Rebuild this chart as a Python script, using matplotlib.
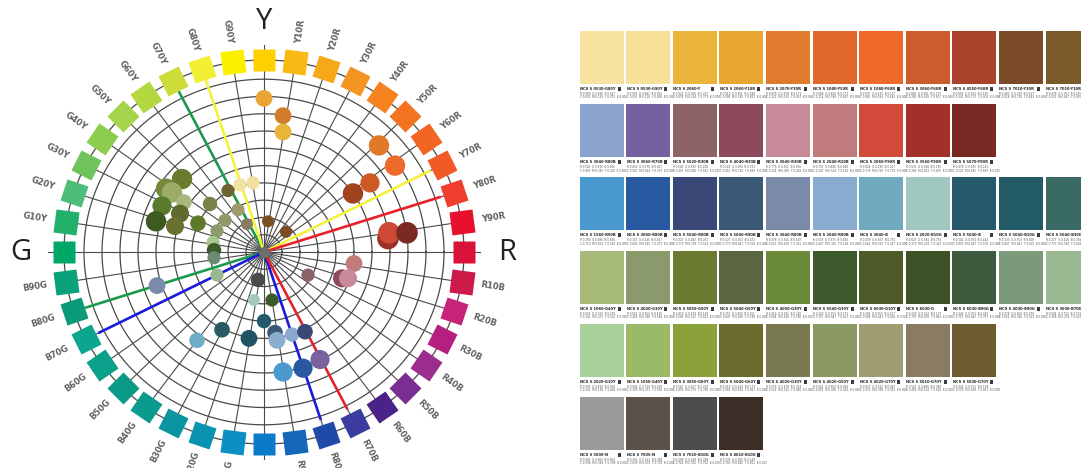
import numpy as np
import matplotlib
matplotlib.use('Agg')
import matplotlib.pyplot as plt
from matplotlib.markers import MarkerStyle
from matplotlib.transforms import Affine2D
from matplotlib.patches import Rectangle
import matplotlib.colors as mcolors

W, H = 1081, 468

# ---------------- NCS hue circle data ----------------
hue_labels = ['Y', 'Y10R', 'Y20R', 'Y30R', 'Y40R', 'Y50R', 'Y60R', 'Y70R', 'Y80R', 'Y90R',
              'R', 'R10B', 'R20B', 'R30B', 'R40B', 'R50B', 'R60B', 'R70B', 'R80B', 'R90B',
              'B', 'B10G', 'B20G', 'B30G', 'B40G', 'B50G', 'B60G', 'B70G', 'B80G', 'B90G',
              'G', 'G10Y', 'G20Y', 'G30Y', 'G40Y', 'G50Y', 'G60Y', 'G70Y', 'G80Y', 'G90Y']
hue_colors = ['#ffd000', '#f9b914', '#f7a81a', '#f59420', '#f5821f', '#f37321', '#f26522', '#f15a24', '#ef3e2d', '#e8112d',
              '#d9123a', '#cc1a4a', '#c8237a', '#b41f80', '#9b2d8e', '#7a2e92', '#4a2288', '#3a3ca0', '#1f4aa8', '#1567b8',
              '#0a7bc8', '#0e8fc4', '#0a93b0', '#0a95a0', '#0a9a8e', '#0a9a85', '#0aa08a', '#0aa690', '#0a9a7a', '#0aa27a',
              '#00a868', '#20b06a', '#4cbe7a', '#70c25a', '#8ccc4e', '#a6d44a', '#b4d840', '#cddc38', '#f2ee32', '#fcf000']
main_labels = {'Y': 0, 'R': 10, 'B': 20, 'G': 30}

# emphasis lines: hue direction (deg), length, colour
line_angles = [117, 108, 27, 18, 198, 207, -72, -63]
line_lengths = [0.95, 0.97, 0.935, 0.93, 0.94, 0.93, 0.92, 0.92]
line_colors = ['#1a9a4a', '#f5f23a', '#f5f23a', '#e8202a', '#1a9a4a', '#1a1adc', '#1a1adc', '#e8202a']

# sampled colours plotted in the circle
dot_x = [-0.41, -0.49, -0.46, -0.40, -0.51, -0.42, -0.54, -0.445, -0.33, -0.27,
         -0.18, -0.12, -0.055, -0.13, -0.195, -0.235, -0.085, 0.02, 0.11, -0.255,
         -0.25, -0.25, -0.235, -0.535, -0.03, -0.05, 0.04, 0.0, -0.335, -0.21,
         -0.075, 0.055, 0.065, 0.14, 0.205, 0.28, 0.195, 0.095, 0.22, 0.45,
         0.39, 0.42, 0.445, 0.53, 0.0, 0.095, 0.095, 0.575, 0.655, 0.62,
         0.625, 0.715]
dot_y = [0.38, 0.33, 0.31, 0.26, 0.24, 0.20, 0.16, 0.135, 0.15, 0.25,
         0.32, 0.35, 0.36, 0.22, 0.165, 0.11, 0.145, 0.16, 0.105, 0.05,
         0.01, -0.03, -0.12, -0.175, -0.145, -0.25, -0.25, -0.36, -0.46, -0.405,
         -0.45, -0.42, -0.46, -0.43, -0.415, -0.56, -0.605, -0.625, -0.12, -0.06,
         -0.137, -0.137, 0.305, 0.36, 0.80, 0.71, 0.625, 0.555, 0.45, 0.07,
         0.10, 0.10]
dot_size = [17, 17, 17, 13, 16, 15, 17, 15, 13, 12,
            11, 11, 11, 11, 11, 11, 10, 10, 10, 11,
            12, 11, 11, 14, 12, 10, 11, 12, 13, 13,
            14, 13, 14, 12, 13, 16, 16, 16, 11, 14,
            15, 15, 17, 16, 14, 14, 14, 17, 17, 18,
            18, 18]
dot_colors = ['#6a7a2e', '#748a3a', '#9aac66', '#a8b87e', '#5a7a30', '#5e6a30', '#3c5a22', '#6a7030', '#5c7a2a', '#7a8248',
              '#6e6230', '#f0e2a0', '#f2e0a0', '#a09a72', '#8e9a68', '#8a9c68', '#8a7c62', '#7a5020', '#7c4c24', '#a8c890',
              '#3c5a2a', '#6c8a72', '#9ab890', '#7a8aa8', '#4a4a4a', '#a2c8c0', '#3a5a2c', '#245a6c', '#70acc8', '#2a5a62',
              '#1e5464', '#3a5a78', '#8aaed0', '#8aa8d0', '#3a4878', '#7a62a0', '#2858a0', '#4a9ad0', '#8c6468', '#c07a7a',
              '#8c4a5c', '#c88a98', '#a0441e', '#cc5a22', '#e8a535', '#d07c28', '#e8b43a', '#e07a2a', '#ee6a2a', '#9a2e28',
              '#cc4a36', '#7a2a22']

# ---------------- swatch data ----------------
swatch_colors = [
    ['#f7e3a0', '#f6e197', '#ebb43a', '#e8a630', '#e07a2c', '#e2672c', '#ef6a28', '#cc5c2c', '#a8432a', '#7b4a28', '#7a5a2a'],
    ['#8aa2cc', '#7560a0', '#8c6468', '#8c4a5c', '#c68a98', '#c07c7c', '#d24a3a', '#a2302a', '#7a2a24'],
    ['#4a98d0', '#2858a0', '#3a4878', '#3a5a78', '#7a8aa8', '#88acd0', '#70aac0', '#a0c8c0', '#245a6c', '#225a66', '#3a6a64'],
    ['#a8ba7a', '#8a9a6a', '#6a7a30', '#5a6640', '#6a8a38', '#3e5a2c', '#4e5a28', '#3e5228', '#3e5a3e', '#7a9a7a', '#9ab892'],
    ['#a8d098', '#9aba68', '#8aa038', '#6a6a2c', '#7a7a50', '#8a9a62', '#a09c72', '#8a7c62', '#6c5c30'],
    ['#9a9a9a', '#5c524c', '#4c4c4c', '#3c2e26'],
]
swatch_codes = [
    ['NCS S 0530-G80Y', 'NCS S 0530-G90Y', 'NCS S 2060-Y', 'NCS S 2060-Y10R', 'NCS S 2070-Y30R', 'NCS S 1080-Y50R',
     'NCS S 1080-Y60R', 'NCS S 3060-Y60R', 'NCS S 4550-Y60R', 'NCS S 7010-Y30R', 'NCS S 7010-Y10R'],
    ['NCS S 3040-R80B', 'NCS S 3060-R70B', 'NCS S 5020-R30B', 'NCS S 4040-R30B', 'NCS S 3040-R30B', 'NCS S 2040-R10B',
     'NCS S 2060-Y90R', 'NCS S 3560-Y90R', 'NCS S 5070-Y90R'],
    ['NCS S 1560-R90B', 'NCS S 3060-R80B', 'NCS S 5040-R80B', 'NCS S 5040-R90B', 'NCS S 3040-R80B', 'NCS S 2040-R90B',
     'NCS S 3040-B', 'NCS S 2020-B10G', 'NCS S 5040-B', 'NCS S 5040-B10G', 'NCS S 5040-B30G'],
    ['NCS S 1060-G40Y', 'NCS S 4020-G30Y', 'NCS S 5050-G50Y', 'NCS S 5040-G50Y', 'NCS S 4050-G30Y', 'NCS S 5540-G30Y',
     'NCS S 6030-G10Y', 'NCS S 6030-G', 'NCS S 6030-B90G', 'NCS S 4030-B90G', 'NCS S 3030-B70G'],
    ['NCS S 2020-G10Y', 'NCS S 1050-G40Y', 'NCS S 3050-G60Y', 'NCS S 5040-G60Y', 'NCS S 4020-G30Y', 'NCS S 4020-G50Y',
     'NCS S 4020-G70Y', 'NCS S 5010-G70Y', 'NCS S 5030-G70Y'],
    ['NCS S 5000-N', 'NCS S 7005-N', 'NCS S 7010-B10G', 'NCS S 8010-B10G'],
]

# ---------------- figure ----------------
fig = plt.figure(figsize=(W / 100, H / 100), dpi=100)
fig.patch.set_facecolor('white')

cx, cy, sx, sy = 264, 252, 200, 192
ax = fig.add_axes([0, 0, 540 / W, 1])
ax.set_xlim(-cx / sx, (540 - cx) / sx)
ax.set_ylim(-(H - cy) / sy, cy / sy)
ax.axis('off')

theta = np.linspace(0, 2 * np.pi, 400)
radii = [0.09 * k for k in range(1, 11)] + [1.0]
for r in radii:
    ax.plot(r * np.cos(theta), r * np.sin(theta), color='#4a4a4a', lw=0.9, zorder=1)

angles = [90 - 9 * i for i in range(len(hue_labels))]
for i, a in enumerate(angles):
    rad = np.deg2rad(a)
    rmax = 1.08 if i in main_labels.values() else 1.0
    ax.plot([0, rmax * np.cos(rad)], [0, rmax * np.sin(rad)], color='#4a4a4a', lw=0.8, zorder=1)

# emphasis lines
for a, L, c in zip(line_angles, line_lengths, line_colors):
    rad = np.deg2rad(a)
    ax.plot([0, L * np.cos(rad)], [0, L * np.sin(rad)], color=c, lw=1.9, zorder=3, solid_capstyle='butt')

# hue squares and labels
for i, (a, lab, col) in enumerate(zip(angles, hue_labels, hue_colors)):
    rad = np.deg2rad(a)
    m = MarkerStyle('s', transform=Affine2D().rotate_deg(a))
    ax.plot([np.cos(rad)], [np.sin(rad)], marker=m, ms=16.5, color=col, mec='none', ls='none', zorder=5)
    an = ((a + 180) % 360) - 180
    if lab in main_labels:
        ax.text(1.215 * np.cos(rad), 1.2 * np.sin(rad), lab, fontsize=21, color='#222222',
                ha='center', va='center', family='Open Sans', zorder=6)
    else:
        rot = an if -90 < an < 90 else an - 180 if an > 0 else an + 180
        ax.text(1.16 * np.cos(rad), 1.16 * np.sin(rad), lab, fontsize=6.0, color='#606060',
                rotation=rot, rotation_mode='anchor', ha='center', va='center', zorder=6,
                fontweight='bold', family='DejaVu Sans')

# centre
ax.plot([0], [0], marker='o', ms=7, color='#6e6e6e', zorder=4)

# sampled dots
ax.scatter(dot_x, dot_y, s=(np.array(dot_size) * 0.72 * 1.2) ** 2, c=dot_colors, edgecolors='none', zorder=7)

# ---------------- swatches ----------------
ax2 = fig.add_axes([560 / W, 0, (W - 560) / W, 1])
ax2.set_xlim(560, W)
ax2.set_ylim(H, 0)
ax2.axis('off')

x0, pitch_x, sw = 579.5, 46.6, 44
y0, pitch_y, sh = 31, 73.2, 53
for r, (row_cols, row_codes) in enumerate(zip(swatch_colors, swatch_codes)):
    top = y0 + r * pitch_y
    for c, (col, code) in enumerate(zip(row_cols, row_codes)):
        left = x0 + c * pitch_x
        ax2.add_patch(Rectangle((left, top), sw, sh, facecolor=col, edgecolor='none'))
        ax2.text(left + 0.5, top + sh + 5, code, fontsize=2.6, fontweight='bold', color='#222222',
                 ha='left', va='center', clip_on=True)
        ax2.add_patch(Rectangle((left + 38, top + sh + 3), 3, 4, facecolor='#3a3a4a', edgecolor='none'))
        rr, gg, bb = mcolors.to_rgb(col)
        ax2.text(left + 0.5, top + sh + 10, f'R {rr:.3f}  G {gg:.3f}  B {bb:.3f}', fontsize=2.0,
                 color='#555555', ha='left', va='center', clip_on=True)
        ax2.text(left + 0.5, top + sh + 13.5, f'C {1 - rr:.3f}  M {1 - gg:.3f}  Y {1 - bb:.3f}  K 0.000',
                 fontsize=2.0, color='#555555', ha='left', va='center', clip_on=True)

fig.savefig('out.png', dpi=100, facecolor='white')
